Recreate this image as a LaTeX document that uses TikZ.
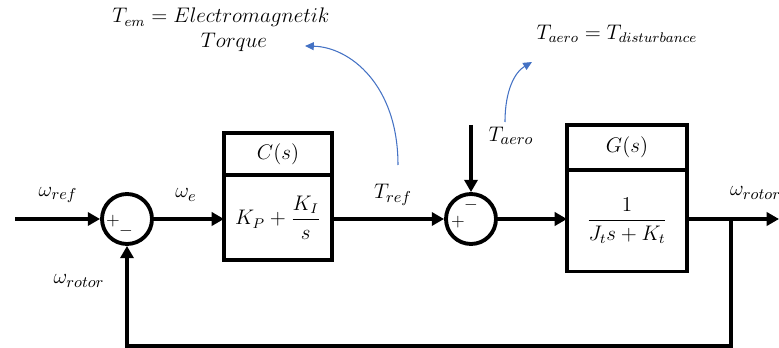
\documentclass[tikz,border=0pt]{standalone}
\usepackage{amsmath}
\usetikzlibrary{arrows.meta,calc,positioning}
\definecolor{noteblue}{RGB}{68,114,196}
\tikzset{
    sigline/.style={->,line width=2.2pt},
    blockbox/.style={draw,line width=2.2pt,outer sep=0pt,inner sep=0pt,font=\large},
    sumnode/.style={circle,draw,line width=2.2pt,minimum size=1cm,inner sep=0pt},
    signame/.style={inner sep=1pt,font=\fontsize{13}{15}\selectfont},
    signmark/.style={inner sep=0pt},
    notevec/.style={-{Triangle[length=5pt,width=4.5pt]},noteblue,line width=0.6pt},
    notetext/.style={font=\large,align=center}
}

\begin{document}
\begin{tikzpicture}[x=0.02cm,y=-0.02cm,>={Triangle[length=7pt,width=7.5pt]}]
    \useasboundingbox (0,0) rectangle (779,348);
    % Summing junctions
    \node[sumnode] (sum1) at (127,219) {};
    \node[sumnode] (sum2) at (471,219) {};
    \node[signmark] (p1) at (113,221) {$+$};
    \node[signmark] (m1) at (126,231) {$-$};
    \node[signmark] (p2) at (458,222) {$+$};
    \node[signmark] (m2) at (471,205) {$-$};
    % Controller block
    \node[blockbox,minimum width=2.16cm,minimum height=0.85cm] (Ctop) at (278,154) {$C(s)$};
    \node[blockbox,minimum width=2.16cm,minimum height=1.7cm,below=0pt of Ctop] (Cbot) {$K_P+\dfrac{K_I}{s}$};
    % Plant block
    \node[blockbox,minimum width=2.4cm,minimum height=0.9cm] (Gtop) at (627,147.5) {$G(s)$};
    \node[blockbox,minimum width=2.4cm,minimum height=2.03cm,below=0pt of Gtop] (Gbot) {$\dfrac{1}{J_t s+K_t}$};
    % Free ends
    \coordinate (in) at (15,219);
    \coordinate (dist) at (471,125);
    \coordinate (out) at (779,219);
    \coordinate (branch) at (731,219);
    \coordinate (fbcorner) at (731,346);
    % Signals
    \draw[sigline] (in) -- (sum1.west);
    \draw[sigline] (sum1.east) -- (sum1.east -| Cbot.west);
    \draw[sigline] (Cbot.east |- sum2.west) -- (sum2.west);
    \draw[sigline] (dist) -- (sum2.north);
    \draw[sigline] (sum2.east) -- (sum2.east -| Gbot.west);
    \draw[sigline] (Gbot.east |- sum2.east) -- (out);
    \draw[sigline] (branch) -- (fbcorner) -| (sum1.south);
    % Signal names
    \node[signame] (wref) at (58,195) {$\omega_{ref}$};
    \node[signame] (we) at (186,195) {$\omega_e$};
    \node[signame] (wfb) at (79,281) {$\omega_{rotor}$};
    \node[signame] (tref) at (393,195) {$T_{ref}$};
    \node[signame] (taero) at (511,136) {$T_{aero}$};
    \node[signame,anchor=west] (wout) at (728,193) {$\omega_{rotor}$};
    % Notes
    \node[notetext] (emnote) at (221,30) {$T_{em}=Electromagnetik$\\\hspace*{0.52cm}$Torque$};
    \node[notetext] (aeronote) at (617,34) {$T_{aero}=T_{disturbance}$};
    \coordinate (emfoot) at (398,165);
    \coordinate (emtip) at (305,46);
    \coordinate (aerofoot) at (505,122);
    \coordinate (aerotip) at (532,62);
    \draw[notevec] (emfoot) .. controls (398,85) and (350,47) .. (emtip);
    \draw[notevec] (aerofoot) .. controls (505,90) and (515,72) .. (aerotip);
\end{tikzpicture}
\end{document}
